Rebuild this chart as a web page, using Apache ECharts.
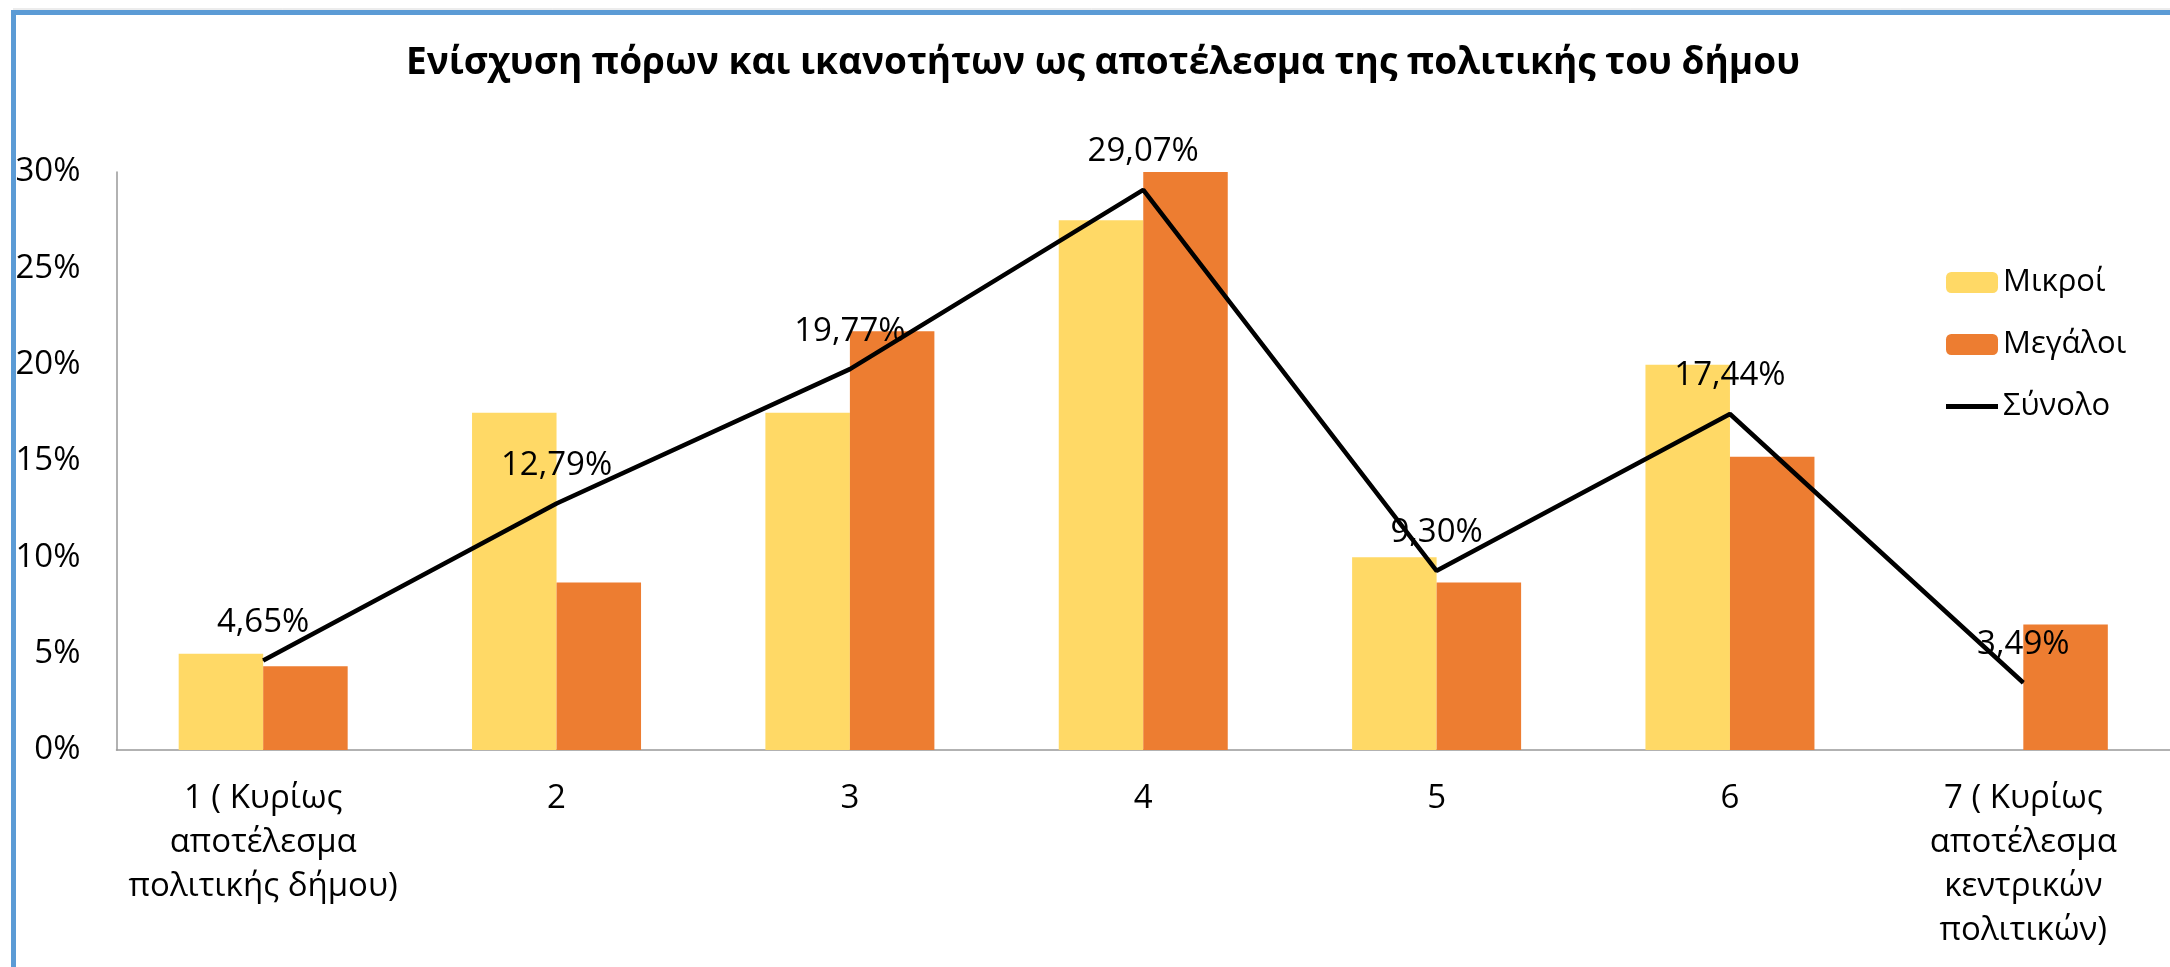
<!DOCTYPE html>
<html>
<head>
<meta charset="utf-8">
<title>Ενίσχυση πόρων και ικανοτήτων</title>
<script src="https://cdn.jsdelivr.net/npm/echarts@6/dist/echarts.min.js"></script>
<style>
  html, body { margin: 0; padding: 0; background: #fff; }
  #chart { width: 2170px; height: 967px; }
</style>
</head>
<body>
<div id="chart"></div>
<script>
// κατηγορίες του άξονα x
var categories = [
  '1 ( Κυρίως\nαποτέλεσμα\nπολιτικής δήμου)',
  '2', '3', '4', '5', '6',
  '7 ( Κυρίως\nαποτέλεσμα\nκεντρικών\nπολιτικών)'
];
// ποσοστά (%)
var mikroi = [5.00, 17.50, 17.50, 27.50, 10.00, 20.00, 0];
var megaloi = [4.35, 8.70, 21.74, 30.43, 8.70, 15.22, 6.52];
var synolo = [4.65, 12.79, 19.77, 29.07, 9.30, 17.44, 3.49];
var yTicks = [0, 5, 10, 15, 20, 25, 30];

var font = 'Open Sans';

var options = {
  animation: false,
  backgroundColor: '#fff',
  textStyle: { fontFamily: font },
  title: {
    text: 'Ενίσχυση πόρων και ικανοτήτων ως αποτέλεσμα της πολιτικής του δήμου',
    left: 1098,
    textAlign: 'center',
    top: 40,
    textStyle: { fontFamily: font, fontSize: 37, fontWeight: 'bold', color: '#000' }
  },
  legend: {
    orient: 'vertical',
    left: 1941,
    top: 262,
    itemWidth: 52,
    itemHeight: 21,
    itemGap: 31,
    textStyle: { fontFamily: font, fontSize: 31, color: '#000', lineHeight: 30 },
    data: [
      'Μικροί',
      'Μεγάλοι',
      // σκέτη γραμμή, χωρίς σύμβολο
      { name: 'Σύνολο', icon: 'path://M0,0L52,0L52,5L0,5Z' }
    ]
  },
  grid: {
    left: 116.5,
    right: -19.5,
    top: 172,
    bottom: 217,
    containLabel: false
  },
  xAxis: {
    type: 'category',
    data: categories,
    axisLine: { lineStyle: { color: '#999', width: 1.5 } },
    axisTick: { show: false },
    axisLabel: {
      interval: 0,
      margin: 27,
      fontFamily: font,
      fontSize: 33,
      lineHeight: 44,
      color: '#000',
      verticalAlign: 'top'
    }
  },
  yAxis: {
    type: 'value',
    min: yTicks[0],
    max: yTicks[yTicks.length - 1],
    interval: 5,
    axisLine: { show: true, lineStyle: { color: '#999', width: 1.5 } },
    axisTick: { show: false },
    splitLine: { show: false },
    axisLabel: {
      margin: 36,
      fontFamily: font,
      fontSize: 33,
      color: '#000',
      formatter: function (v) { return v + '%'; }
    }
  },
  series: [
    {
      name: 'Μικροί',
      type: 'bar',
      data: mikroi,
      barWidth: 84.5,
      barGap: '0%',
      itemStyle: { color: '#FFD966' }
    },
    {
      name: 'Μεγάλοι',
      type: 'bar',
      data: megaloi,
      barWidth: 84.5,
      barGap: '0%',
      itemStyle: { color: '#ED7D31' }
    },
    {
      name: 'Σύνολο',
      type: 'line',
      data: synolo,
      symbol: 'circle',
      symbolSize: 1,
      itemStyle: { color: '#000' },
      lineStyle: { color: '#000', width: 4.5 },
      label: {
        show: true,
        position: 'top',
        distance: 21,
        fontFamily: font,
        fontSize: 33,
        color: '#000',
        formatter: function (p) { return p.value.toFixed(2).replace('.', ',') + '%'; }
      },
      z: 5
    }
  ],
  graphic: [
    // πλαίσιο γραφήματος
    {
      type: 'line',
      shape: { x1: 13, y1: 9, x2: 2170, y2: 9 },
      style: { stroke: '#d9d9d9', lineWidth: 1 }
    },
    {
      type: 'rect',
      shape: { x: 13.5, y: 12.5, width: 2300, height: 1100 },
      style: { fill: null, stroke: '#5B9BD5', lineWidth: 5 },
      z: 100
    }
  ]
};

var instance = echarts.init(document.getElementById('chart'));
instance.setOption(options);
</script>
</body>
</html>
